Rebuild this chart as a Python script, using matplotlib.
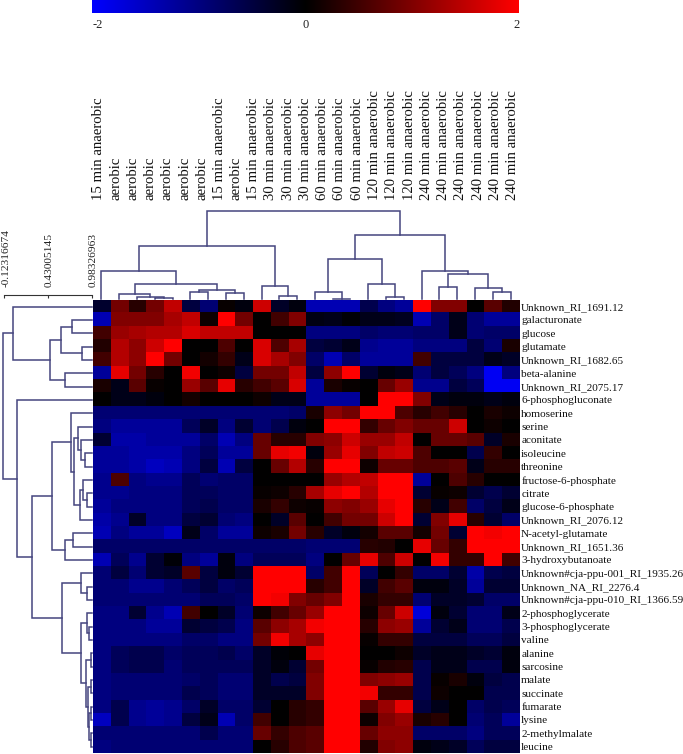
import matplotlib
matplotlib.use("Agg")
import matplotlib.pyplot as plt
from matplotlib.colors import LinearSegmentedColormap
from matplotlib.transforms import ScaledTranslation
import numpy as np

plt.rcParams['font.family'] = ['Liberation Serif', 'DejaVu Serif']

W, H = 683, 754

metabolites = [
    "Unknown_RI_1691.12", "galacturonate", "glucose", "glutamate",
    "Unknown_RI_1682.65", "beta-alanine", "Unknown_RI_2075.17",
    "6-phosphogluconate", "homoserine", "serine", "aconitate", "isoleucine",
    "threonine", "fructose-6-phosphate", "citrate", "glucose-6-phosphate",
    "Unknown_RI_2076.12", "N-acetyl-glutamate", "Unknown_RI_1651.36",
    "3-hydroxybutanoate", "Unknown#cja-ppu-001_RI_1935.26",
    "Unknown_NA_RI_2276.4", "Unknown#cja-ppu-010_RI_1366.59",
    "2-phosphoglycerate", "3-phosphoglycerate", "valine", "alanine",
    "sarcosine", "malate", "succinate", "fumarate", "lysine",
    "2-methylmalate", "leucine",
]

samples = (["15 min anaerobic"] + ["aerobic"] * 6 + ["15 min anaerobic", "aerobic", "15 min anaerobic"]
           + ["30 min anaerobic"] * 3 + ["60 min anaerobic"] * 3
           + ["120 min anaerobic"] * 3 + ["240 min anaerobic"] * 6)

# log ratio per metabolite (rows) and heatmap column
values = [
    [-.35, .9, .3, .9, 1.5, -.5, -.9, .05, -.1, 1.6, -.3, -.1, -1.4, -1.4, -1.4, -.6, -1.0, -1.2, 2, 1.0, 1.0, 0, .7, .25],
    [-1.4, 1.0, 1.0, 1.0, 1.3, 1.5, .1, 2, .9, 0, .5, 1.0, -.15, -.2, -.05, -.2, -.2, -.25, -1.4, -.8, -.2, -.9, -1.2, -1.2],
    [.5, 1.2, 1.3, 1.4, 1.4, 1.7, 1.5, 1.5, 1.5, 0, 0, 0, -1.0, -1.0, -1.0, -.8, -.9, -.9, -.8, -.8, -.2, -.9, -.8, -.8],
    [.25, 1.4, 1.1, 1.6, 2, 0, 0, .6, 0, 1.7, .6, 1.3, -.5, -.4, -.2, -1.1, -1.2, -1.2, -1.0, -1.0, -1.0, -.5, -.9, .2],
    [.5, 1.4, 1.1, 2, .9, 0, .15, .4, -.2, 1.7, 1.3, 1.0, -.8, -1.4, -.8, -1.2, -1.2, -1.2, .5, -.5, -.5, -.5, -.2, -.3],
    [-1.2, 1.8, .9, .3, 0, 1.9, 0, .1, -.5, .9, .9, 1.5, -.5, 1.1, 2, -.4, -.1, -.2, -.9, -.5, -.7, -1.0, -1.9, -1.0],
    [.2, -.2, .7, .05, 0, 1.2, .7, 1.8, .3, .5, .7, 1.7, -1.2, .2, .05, 0, .8, 1.2, -1.1, -1.1, -.5, -.7, -1.9, -1.9],
    [0, -.2, -.2, -.1, 0, .15, 0, 0, 0, .1, -.2, -.2, -1.2, -1.2, -1.2, 0, 2, 2, 1.0, -.2, -.1, -.1, -.2, -.1],
    [-.9, -.9, -.9, -.9, -.9, -.9, -.9, -.9, -.9, -.9, -.9, -.8, .2, 1.1, .9, 2, 2, .6, .3, .5, .3, 0, .2, .1],
    [-1.0, -1.2, -1.2, -1.2, -1.2, -.7, -.3, -1.0, -.4, -.9, -.6, -.1, 0, 2, 2, .4, .8, 1.0, .8, .8, 1.6, 0, .1, 0],
    [-.4, -1.3, -1.3, -1.2, -1.2, -1.2, -.8, -1.4, -1.0, .8, .3, .3, 1.0, 1.1, 1.6, 1.2, 1.2, 1.5, 0, .8, .8, .7, -.3, .2],
    [-1.2, -1.2, -1.3, -1.3, -1.3, -1.0, -.7, -1.2, -1.2, .8, 1.8, 1.9, -.1, 1.2, 1.8, 1.0, 1.5, 1.6, .6, 0, 0, -.6, .4, 0],
    [-1.2, -1.2, -1.3, -1.5, -1.4, -1.0, -.5, -1.4, -.5, 0, .8, 1.4, .3, 2, 2, .1, .8, .8, .6, .6, .7, -.2, .3, .3],
    [-1.1, .6, -1.0, -1.1, -1.1, -.7, -.9, -.8, -.8, 0, 0, 0, 0, 1.2, 1.4, 1.5, 2, 2, -1.2, 0, .6, .3, 0, 0],
    [-1.1, -1.1, -1.0, -1.0, -1.0, -.7, -.7, -.8, -.8, .05, .1, .3, 1.3, 1.8, 2, 1.4, 2, 2, -.4, .05, .1, -.4, -.6, -.4],
    [-1.2, -1.0, -1.0, -1.0, -1.0, -.7, -.6, -.8, -.8, .2, .4, .1, .05, 1.1, 1.0, 1.2, 1.8, 2, .3, -.2, .5, -.8, -.5, -.2],
    [-1.3, -1.1, -.3, -1.0, -1.0, -.5, -.4, -.9, -1.0, 0, -.3, .7, 0, .5, .9, .9, 1.6, 2, -.4, 1.0, 1.8, .3, -.4, -.8],
    [-1.4, -1.0, -1.2, -1.2, -1.5, -.2, -.8, -1.2, -1.2, .1, .2, .9, .3, -.3, -.1, .15, .7, .7, .15, .9, -.4, 2, 1.9, 2],
    [-.8, -.8, -.8, -.8, -.8, -.8, -.8, -.8, -.8, -.8, -.8, -.8, -.9, -.9, -.9, .3, .25, 0, 1.8, .8, .4, 2, 2, 2],
    [-1.4, -.7, -1.1, -.4, -.05, -1.0, -1.2, -.1, -1.0, -.7, -.7, -.7, -1.0, 0, .8, 1.8, .6, 1.6, 0, 1.9, .4, .4, 2, .5],
    [-.9, -.5, -.9, -.4, -.3, .7, -.5, -.1, -.4, 2, 2, 2, -.8, .5, 2, -.7, 0, .4, -.8, -.8, -.4, -1.3, -.6, -.5],
    [-.9, -.9, -1.1, -1.1, -.9, -.7, -.5, -.8, -.7, 2, 2, 2, .3, .5, 2, -.3, .5, .7, -.1, -.1, -.3, -1.2, -.4, -.4],
    [-.9, -.9, -.9, -.9, -.9, -.9, -.7, -.7, -.8, 2, 1.9, 1.0, .8, 1.0, 2, .2, .4, .4, -.9, -.3, -.3, -.4, -.8, -.8],
    [-1.0, -1.0, -.4, -1.1, -1.4, .5, 0, -.3, -.9, .1, .5, .8, 1.2, 2, 2, .1, .8, 1.6, -1.7, -.1, -.4, -.9, -.9, -.2],
    [-1.0, -1.0, -1.0, -1.2, -1.2, -.4, -.5, -.6, -1.0, .7, 1.1, 1.3, 1.9, 2, 2, .3, 1.1, 1.2, -1.2, -.4, -.2, -.9, -.9, -.6],
    [-1.0, -1.0, -1.0, -1.0, -1.0, -.8, -.8, -1.0, -1.0, .9, 1.9, 1.3, 1.1, 2, 2, .05, .4, .4, -.5, -.5, -.5, -.7, -.7, -.5],
    [-1.0, -.7, -.6, -.6, -.8, -.7, -.7, -.6, -.8, -.3, -.05, 0, 1.8, 2, 2, 0, 0, .1, -.3, -.2, -.2, -.3, -.4, -.1],
    [-1.0, -.7, -.6, -.6, -.9, -.7, -.7, -.7, -.7, -.3, -.1, -.4, .9, 2, 2, .05, .25, .3, -.6, -.2, -.2, -.6, -.6, -.1],
    [-1.0, -.9, -.9, -.9, -.9, -.8, -.7, -.9, -.9, -.3, -.6, -.5, 1.0, 2, 2, 1.0, 1.1, 1.2, -.6, .05, .2, -.1, -.5, -.6],
    [-1.0, -.9, -.9, -.9, -.9, -.6, -.7, -.9, -.9, -.3, -.3, -.3, 1.0, 2, 2, 1.9, .4, .4, -.6, .1, 0, 0, -.6, -.6],
    [-1.0, -.6, -1.1, -1.2, -1.1, -.8, -.3, -.8, -.8, -.4, 0, .3, .4, 2, 2, .7, 1.2, 1.8, -.5, -.2, 0, -.8, -.6, -.7],
    [-1.5, -.6, -1.1, -1.2, -1.1, -.5, -.2, -1.4, -.8, .5, 0, .3, .4, 2, 2, .1, 1.0, 1.2, .2, .3, 0, -.9, -.7, -1.2],
    [-.9, -.9, -.9, -.9, -.9, -.9, -.6, -.9, -.9, .8, .4, .6, .7, 2, 2, .8, 1.1, 1.1, -.8, -.8, -.8, -1.0, -.7, -.7],
    [-1.0, -.9, -.9, -.9, -.9, -.9, -.9, -.9, -.9, 0, .3, .6, .7, 2, 2, .25, 1.0, 1.1, -.1, -.2, -.3, -.7, -.5, -.5],
]

# merges like a linkage table: (left, right, height), ids above the leaves are earlier merges
col_merges = [
    (3, 4, 1.0), (2, 24, 2.3), (1, 25, 5.0), (5, 6, 7.0), (7, 8, 6.0), (27, 28, 9.7),
    (26, 29, 15.7), (0, 30, 28.3), (10, 11, 3.7), (9, 32, 13.3), (31, 33, 53.3),
    (13, 14, 0.7), (12, 35, 7.7), (16, 17, 2.3), (15, 37, 15.7), (36, 38, 41.0),
    (19, 20, 12.3), (22, 23, 7.0), (21, 41, 11.0), (40, 42, 25.7), (18, 43, 28.3),
    (39, 44, 65.0), (34, 45, 88.3),
]

row_merges = [
    (1, 2, .737), (3, 4, .858), (5, 6, .649), (34, 35, .595), (37, 36, .461), (0, 38, .002),
    (11, 12, .900), (10, 40, .849), (9, 41, .816), (14, 15, .929), (13, 43, .879), (44, 16, .837),
    (42, 45, .762), (8, 46, .724), (17, 18, .753), (48, 19, .649), (47, 49, .490),
    (21, 22, .920), (20, 51, .849), (24, 25, .946), (23, 53, .920), (26, 27, .971),
    (28, 29, .971), (30, 31, .975), (32, 33, .971), (57, 58, .954), (56, 59, .933),
    (55, 60, .908), (54, 61, .849), (52, 62, .616), (50, 63, .236), (7, 64, .052), (39, 65, -.123),
]

scale_ticks = [-0.12316674, 0.43005145, 0.98326963]
scale_labels = ["-0.12316674", "0.43005145", "0.98326963"]

TREE_COLOR = '#45457f'


def px_axes(x0, y0, x1, y1):
    # pixel box measured from the top left of the image
    return plt.gcf().add_axes([x0 / W, 1 - y1 / H, (x1 - x0) / W, (y1 - y0) / H])


def draw_tree(ax, merges, n_leaves, leaf_height, vertical):
    pos = {i: i for i in range(n_leaves)}
    height = {i: leaf_height for i in range(n_leaves)}
    for k, (a, b, h) in enumerate(merges):
        xs = [pos[a], pos[a], pos[b], pos[b]]
        ys = [height[a], h, h, height[b]]
        if vertical:
            ax.plot(xs, ys, color=TREE_COLOR, lw=1.1, solid_joinstyle='miter', clip_on=False)
        else:
            ax.plot(ys, xs, color=TREE_COLOR, lw=1.1, solid_joinstyle='miter', clip_on=False)
        pos[n_leaves + k] = (pos[a] + pos[b]) / 2
        height[n_leaves + k] = h


fig = plt.figure(figsize=(W / 100, H / 100), dpi=100)
cmap = LinearSegmentedColormap.from_list('blue_black_red', ['#0000ff', '#000000', '#ff0000'])

# heatmap
ax = px_axes(92.5, 300, 519.5, 753.3)
ax.imshow(np.array(values), cmap=cmap, vmin=-2, vmax=2, aspect='auto', interpolation='nearest')
ax.set_xticks([])
ax.yaxis.tick_right()
ax.set_yticks(range(len(metabolites)))
ax.set_yticklabels(metabolites, fontsize=8.1, color='#111111')
ax.tick_params(axis='y', length=0, pad=1.2)
for s in ax.spines.values():
    s.set_visible(False)

# top tree
ax_top = px_axes(92.5, 205, 519.5, 299.5)
draw_tree(ax_top, col_merges, 24, 0, True)
ax_top.set_xlim(-0.5, 23.5)
ax_top.set_ylim(0, 94.5)
ax_top.axis('off')

# left tree, similarity grows towards the leaves
ax_left = px_axes(3.3, 300, 92.3, 753.3)
draw_tree(ax_left, row_merges, 34, 0.99, False)
ax_left.set_xlim(-0.123, 0.99)
ax_left.set_ylim(33.5, -0.5)
ax_left.axis('off')

# similarity scale
ax_scale = px_axes(4, 295, 91.5, 297)
ax_scale.set_xlim(scale_ticks[0], scale_ticks[-1])
ax_scale.set_yticks([])
for name in ['left', 'right', 'bottom']:
    ax_scale.spines[name].set_visible(False)
ax_scale.spines['top'].set_linewidth(0.8)
ax_scale.spines['top'].set_color('#333333')
ax_scale.xaxis.tick_top()
ax_scale.set_xticks(scale_ticks)
ax_scale.set_xticklabels(scale_labels, rotation=90, fontsize=8.2, color='#222222')
ax_scale.tick_params(axis='x', direction='in', length=2, width=0.8, pad=6, color='#333333')
# nudge so the first label stays inside the image
for lab in ax_scale.get_xticklabels():
    lab.set_transform(lab.get_transform() + ScaledTranslation(1.8 / 100, 0, fig.dpi_scale_trans))

# sample labels sit on their own positions, there is one more label than cells
ax_lab = px_axes(92.5, 200, 519.5, 201)
ax_lab.set_xlim(-0.336, 24.4)
ax_lab.set_yticks([])
for s in ax_lab.spines.values():
    s.set_visible(False)
ax_lab.xaxis.tick_top()
ax_lab.set_xticks(range(len(samples)))
ax_lab.set_xticklabels(samples, rotation=90, fontsize=10.6, color='#111111')
ax_lab.tick_params(axis='x', length=0, pad=0)

# colour bar
ax_bar = px_axes(92.3, 0, 519.3, 13.3)
ax_bar.imshow(np.linspace(-2, 2, 256).reshape(1, -1), cmap=cmap, vmin=-2, vmax=2, aspect='auto', extent=[-2, 2, 0, 1])
ax_bar.set_yticks([])
ax_bar.set_xticks([-2, 0, 2])
ax_bar.set_xticklabels(["-2", "0", "2"], fontsize=9, color='#222222')
ax_bar.get_xticklabels()[0].set_ha('left')
ax_bar.get_xticklabels()[2].set_ha('right')
ax_bar.tick_params(axis='x', length=0, pad=4)
for s in ax_bar.spines.values():
    s.set_visible(False)

fig.savefig('out.png', dpi=100)
